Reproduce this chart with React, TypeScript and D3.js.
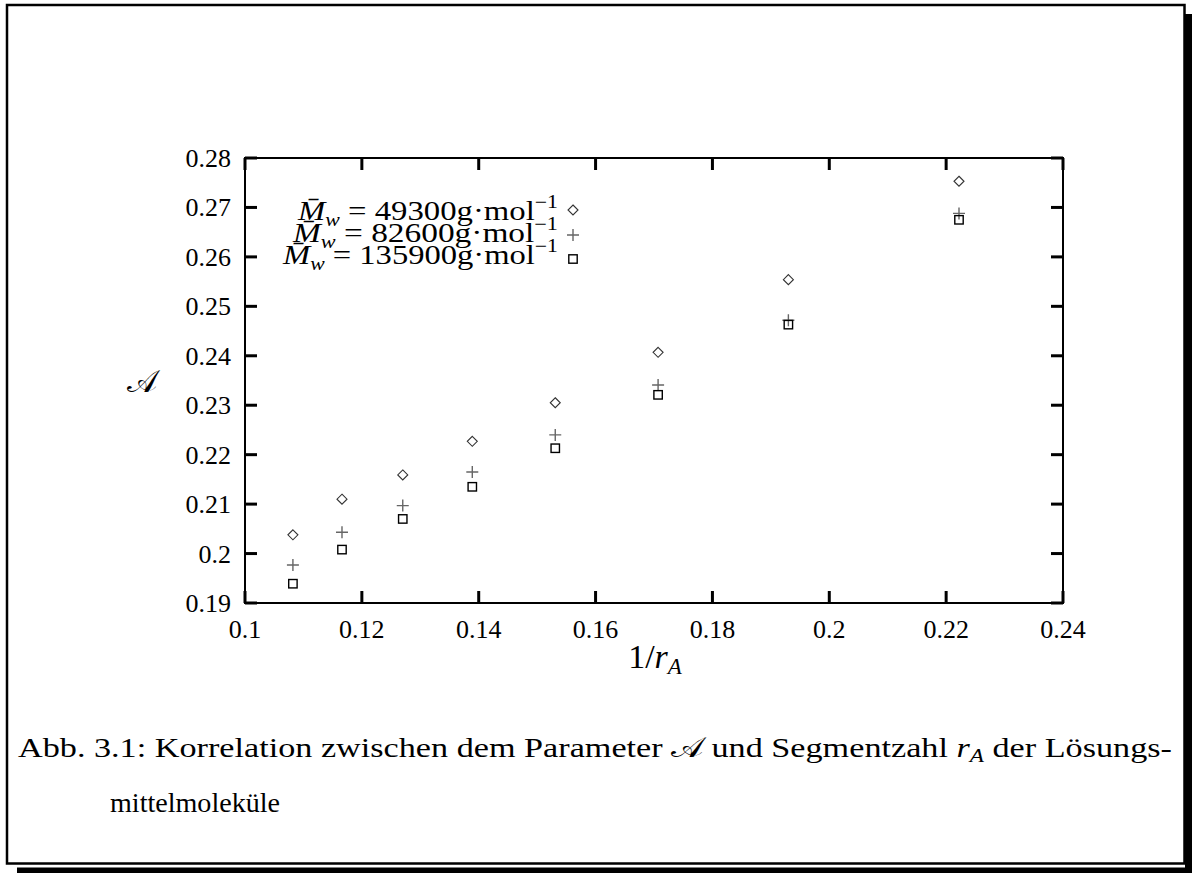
import React from "react";
import * as d3 from "d3";

const xTickValues = [0.1, 0.12, 0.14, 0.16, 0.18, 0.2, 0.22, 0.24];
const xTickLabels = ["0.1", "0.12", "0.14", "0.16", "0.18", "0.2", "0.22", "0.24"];
const yTickValues = [0.19, 0.2, 0.21, 0.22, 0.23, 0.24, 0.25, 0.26, 0.27, 0.28];
const yTickLabels = ["0.19", "0.2", "0.21", "0.22", "0.23", "0.24", "0.25", "0.26", "0.27", "0.28"];

const invR = [0.1082, 0.1166, 0.127, 0.1389, 0.1531, 0.1707, 0.193, 0.2222];
const seriesM49300 = [0.2038, 0.211, 0.2159, 0.2227, 0.2305, 0.2407, 0.2554, 0.2753];
const seriesM82600 = [0.1977, 0.2043, 0.2097, 0.2165, 0.224, 0.2341, 0.2472, 0.2688];
const seriesM135900 = [0.1939, 0.2008, 0.207, 0.2135, 0.2213, 0.2321, 0.2463, 0.2675];

const legendNumbers = ["49300", "82600", "135900"];

const FONT = "'Liberation Serif', 'Times New Roman', serif";

function Diamond({ cx, cy }: { cx: number; cy: number }) {
  const r = 5;
  return (
    <path
      d={`M${cx},${cy - r}L${cx + r},${cy}L${cx},${cy + r}L${cx - r},${cy}Z`}
      fill="none"
      stroke="#333"
      strokeWidth={1.1}
    />
  );
}
function Plus({ cx, cy }: { cx: number; cy: number }) {
  const r = 6;
  return (
    <path
      d={`M${cx - r},${cy}H${cx + r}M${cx},${cy - r}V${cy + r}`}
      fill="none"
      stroke="#666"
      strokeWidth={1.4}
    />
  );
}
function Square({ cx, cy }: { cx: number; cy: number }) {
  const r = 4.2;
  return (
    <rect x={cx - r} y={cy - r} width={2 * r} height={2 * r} fill="none" stroke="#000" strokeWidth={1.4} />
  );
}

export default function App() {
  const left = 245,
    right = 1063,
    top = 158,
    bottom = 603;
  const x = d3.scaleLinear().domain([0.1, 0.24]).range([left, right]);
  const y = d3.scaleLinear().domain([0.19, 0.28]).range([bottom, top]);
  const tickLen = 12;

  const legendBaselines = [220, 242, 264];
  const legendStart = [298, 293, 283];
  const legendSymY = [210, 235, 259];
  const legendRight = 558;
  const symX = 573;

  return (
    <svg
      width={1192}
      height={873}
      style={{ position: "absolute", left: 0, top: 0, background: "#fff" }}
      fontFamily={FONT}
    >
      <rect x={0} y={0} width={1192} height={873} fill="#fff" />
      {/* page frame with shadow */}
      <rect x={7} y={5} width={1177.5} height={858.5} fill="none" stroke="#000" strokeWidth={2.5} />
      <rect x={1185} y={14} width={7} height={859} fill="#000" />
      <rect x={17} y={867.5} width={1175} height={5.5} fill="#000" />

      {/* plot frame */}
      <rect x={left} y={top} width={right - left} height={bottom - top} fill="none" stroke="#000" strokeWidth={2} />
      {xTickValues.map((v, i) => (
        <g key={"xt" + i}>
          <line x1={x(v)} x2={x(v)} y1={bottom} y2={bottom - tickLen} stroke="#000" strokeWidth={3} />
          <line x1={x(v)} x2={x(v)} y1={top} y2={top + tickLen} stroke="#000" strokeWidth={3} />
          <text x={x(v)} y={638} fontSize={26} textAnchor="middle">
            {xTickLabels[i]}
          </text>
        </g>
      ))}
      {yTickValues.map((v, i) => (
        <g key={"yt" + i}>
          <line x1={left} x2={left + tickLen} y1={y(v)} y2={y(v)} stroke="#000" strokeWidth={3} />
          <line x1={right} x2={right - tickLen} y1={y(v)} y2={y(v)} stroke="#000" strokeWidth={3} />
          <text x={231} y={y(v) + 9} fontSize={26} textAnchor="end">
            {yTickLabels[i]}
          </text>
        </g>
      ))}

      {/* axis titles */}
      <text x={655} y={668} fontSize={34} textAnchor="middle">
        1/<tspan fontStyle="italic">r</tspan>
        <tspan fontStyle="italic" fontSize={23} dy={6}>
          A
        </tspan>
      </text>
      <text x={142} y={392} fontSize={32} textAnchor="middle" fontFamily="'DejaVu Serif', serif">
        𝒜
      </text>

      {/* legend */}
      {legendNumbers.map((n, i) => (
        <text
          key={"lg" + i}
          x={legendStart[i]}
          y={legendBaselines[i]}
          fontSize={27}
          textLength={legendRight - legendStart[i]}
          lengthAdjust="spacingAndGlyphs"
        >
          <tspan fontStyle="italic">M̄</tspan>
          <tspan fontStyle="italic" fontSize={18} dy={6}>
            w
          </tspan>
          <tspan dy={-6}>{" = "}{n}g·mol</tspan>
          <tspan fontSize={18} dy={-12}>
            −1
          </tspan>
        </text>
      ))}
      <Diamond cx={symX} cy={legendSymY[0]} />
      <Plus cx={symX} cy={legendSymY[1]} />
      <Square cx={symX} cy={legendSymY[2]} />

      {/* data */}
      {invR.map((v, i) => (
        <Diamond key={"d" + i} cx={x(v)} cy={y(seriesM49300[i])} />
      ))}
      {invR.map((v, i) => (
        <Plus key={"p" + i} cx={x(v)} cy={y(seriesM82600[i])} />
      ))}
      {invR.map((v, i) => (
        <Square key={"s" + i} cx={x(v)} cy={y(seriesM135900[i])} />
      ))}

      {/* caption */}
      <text x={18} y={757} fontSize={28} textLength={1154} lengthAdjust="spacingAndGlyphs">
        Abb. 3.1: Korrelation zwischen dem Parameter <tspan fontFamily="'DejaVu Serif', serif">𝒜</tspan> und Segmentzahl{" "}
        <tspan fontStyle="italic">r</tspan>
        <tspan fontStyle="italic" fontSize={19} dy={5}>
          A
        </tspan>
        <tspan dy={-5}> der Lösungs-</tspan>
      </text>
      <text x={110} y={812} fontSize={28} textLength={170} lengthAdjust="spacingAndGlyphs">
        mittelmoleküle
      </text>
    </svg>
  );
}
